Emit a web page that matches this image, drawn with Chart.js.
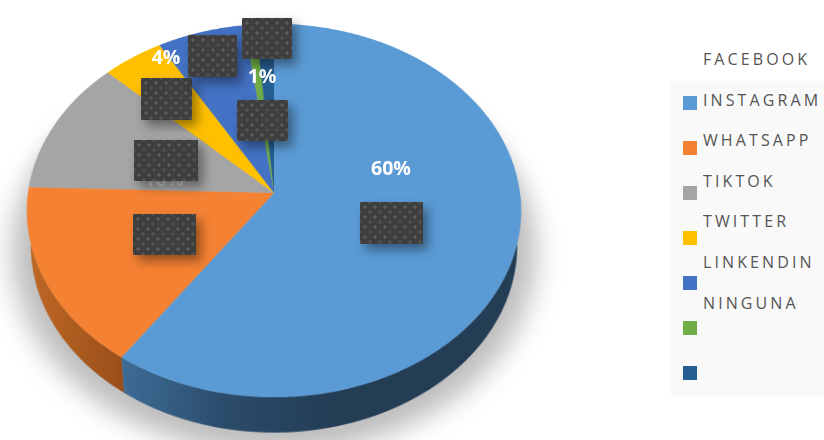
<!DOCTYPE html>
<html>
<head>
<meta charset="utf-8">
<script src="https://cdn.jsdelivr.net/npm/chart.js@4"></script>
<style>
html, body { margin: 0; padding: 0; background: #fff; }
body { width: 824px; height: 440px; position: relative; overflow: hidden; font-family: "Open Sans", sans-serif; }
#pieBox { position: absolute; left: -36px; top: -117px; width: 620px; height: 620px;
          transform-origin: 310px 310px; transform: perspective(1728px) rotateX(41.2deg); }
#panel { position: absolute; left: 671px; top: 81px; width: 153px; height: 315px; background: #f9f9f9; }
.swatch { position: absolute; left: 683px; width: 14px; height: 14px; }
.name { position: absolute; left: 703px; font-size: 16px; letter-spacing: 3.1px; color: #555; line-height: 20px; white-space: nowrap; }
.pct { position: absolute; color: #fff; font-weight: 700; font-size: 19.5px; line-height: 20px; transform: translate(-50%, -50%); }
.tapa { position: absolute; background-color: #3e3e3e;
        background-image: radial-gradient(#5c5c5c 1.3px, transparent 2px), radial-gradient(#525252 1.3px, transparent 2px);
        background-size: 10px 10px; background-position: 0 0, 5px 5px;
        box-shadow: 5px 6px 10px rgba(0,0,0,.4); }
</style>
</head>
<body>
<div id="pieBox"><canvas id="grafica" width="620" height="620"></canvas></div>
<div id="panel"></div>
<script>
const categorias = ["FACEBOOK", "INSTAGRAM", "WHATSAPP", "TIKTOK", "TWITTER", "LINKENDIN", "NINGUNA"];
const valores = [59.7, 15.8, 11.7, 4.4, 6.3, 0.8, 1.3];
const colores = ["#5b9bd5", "#f58233", "#a5a5a5", "#ffc000", "#4472c4", "#70ad47", "#255e91"];
const paredes = [
    ["#233d55", "#233d55", "#233d55", "#2b4c6b", "#3e6d97"],
    ["#9a4f1b", "#b05e20", "#c06a28"]
];

// etiquetas visibles de la grafica
const etiquetas = [
    { texto: "60%", x: 391, y: 168 },
    { texto: "16%", x: 164, y: 179, color: "#c4c4c4" },
    { texto: "4%", x: 166, y: 57 },
    { texto: "1%", x: 262, y: 76 }
];

// recuadros oscuros que tapan parte de la grafica
const tapas = [
    [360, 202, 63, 42], [133, 214, 63, 41], [134, 140, 64, 41], [141, 78, 51, 42],
    [188, 35, 49, 42], [237, 100, 51, 41], [242, 18, 50, 41]
];

// Canto del disco y sombra, tomados de los arcos que calcula Chart.js
const canto3D = {
    id: "canto3D",
    beforeDatasetsDraw(chart) {
        const ctx = chart.ctx;
        const arcos = chart.getDatasetMeta(0).data;
        const cx = arcos[0].x, cy = arcos[0].y, r = arcos[0].outerRadius;
        const alto = 46, rBase = r - 8;

        // el blur no se escala con el devicePixelRatio
        ctx.save();
        ctx.filter = "blur(26px)";
        ctx.fillStyle = "rgba(0,0,0,0.26)";
        ctx.beginPath();
        ctx.arc(cx, cy + alto + 4, r + 10, 0, Math.PI * 2);
        ctx.fill();
        ctx.restore();

        [0, 1].forEach(i => {
            const ini = Math.max(arcos[i].startAngle, 0);
            const fin = Math.min(arcos[i].endAngle, Math.PI);
            const grad = ctx.createLinearGradient(cx + Math.cos(ini) * r, 0, cx + Math.cos(fin) * r, 0);
            paredes[i].forEach((c, n) => grad.addColorStop(n / (paredes[i].length - 1), c));
            ctx.fillStyle = grad;
            ctx.beginPath();
            ctx.arc(cx, cy + alto, rBase, ini, fin);
            ctx.arc(cx, cy, r, fin, ini, true);
            ctx.closePath();
            ctx.fill();
        });
    }
};

new Chart(document.getElementById("grafica"), {
    type: "pie",
    data: {
        labels: categorias,
        datasets: [{ data: valores, backgroundColor: colores, borderWidth: 0 }]
    },
    options: {
        responsive: false,
        devicePixelRatio: 2,
        animation: false,
        layout: { padding: 64 },
        plugins: { legend: { display: false }, tooltip: { enabled: false } }
    },
    plugins: [canto3D]
});

etiquetas.forEach(e => {
    const d = document.createElement("div");
    d.className = "pct";
    d.textContent = e.texto;
    d.style.left = e.x + "px";
    d.style.top = e.y + "px";
    if (e.color) d.style.color = e.color;
    document.body.appendChild(d);
});

tapas.forEach(t => {
    const d = document.createElement("div");
    d.className = "tapa";
    d.style.cssText = `left:${t[0]}px;top:${t[1]}px;width:${t[2]}px;height:${t[3]}px`;
    document.body.appendChild(d);
});

// Leyenda: los nombres quedan corridos respecto a los cuadros, igual que en el original
categorias.forEach((nombre, i) => {
    const s = document.createElement("div");
    s.className = "swatch";
    s.style.top = (96 + i * 45) + "px";
    s.style.background = colores[i];
    document.body.appendChild(s);

    const n = document.createElement("div");
    n.className = "name";
    n.textContent = nombre;
    n.style.top = (49 + i * 40.6) + "px";
    document.body.appendChild(n);
});
</script>
</body>
</html>
